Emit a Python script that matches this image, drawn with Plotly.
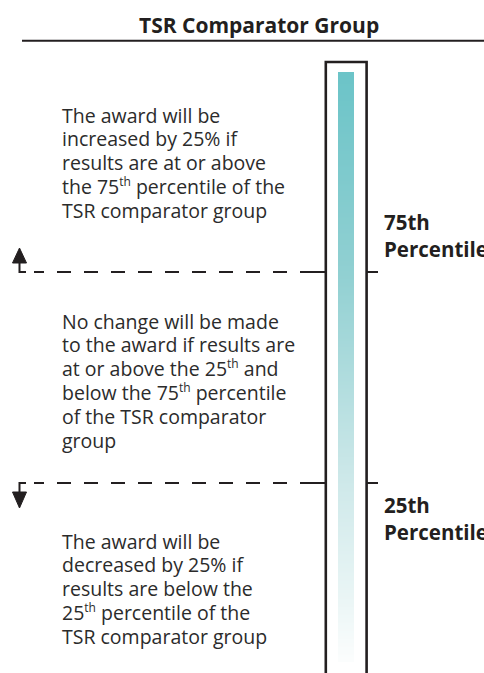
import plotly.graph_objects as go

# ---- data ----
thresholds = [75, 25]
threshold_labels = [["75th", "Percentile"], ["25th", "Percentile"]]
title_text = "TSR Comparator Group"
SUP = '<sup><span style="font-size:12px">th</span></sup>'
block_lines = [
    ["The award will be", "increased by 25% if", "results are at or above",
     f"the 75{SUP} percentile of the", "TSR comparator group"],
    ["No change will be made", "to the award if results are", f"at or above the 25{SUP} and",
     f"below the 75{SUP} percentile", "of the TSR comparator", "group"],
    ["The award will be", "decreased by 25% if", "results are below the",
     f"25{SUP} percentile of the", "TSR comparator group"],
]
gradient_stops = [[0.0, "#fbfdfd"], [0.11, "#e9f5f5"], [0.31, "#cde8e9"], [0.66, "#91d0d2"], [1.0, "#6cc4c8"]]

# ---- layout helpers (page px -> percentile scale) ----
W, H = 484, 673
PX_PER_PCT = 4.22
Y75 = 272.0


def pct(ypx):
    return 75 - (ypx - Y75) / PX_PER_PCT


INK = "#231f20"
TXT = "#2b2b2b"
FONT = "Open Sans"

fig = go.Figure()

# gradient inside tube
N = 80
top_px, bot_px = 72, 662
y_edges = [pct(bot_px + (top_px - bot_px) * i / N) for i in range(N + 1)]
z = [[i / (N - 1)] for i in range(N)]
fig.add_trace(go.Heatmap(x=[338, 354], y=y_edges, z=z, colorscale=gradient_stops,
                         zmin=0, zmax=1, showscale=False, zsmooth="best", hoverinfo="skip"))

shapes = []
# title rule
shapes.append(dict(type="line", x0=22, x1=W + 5, y0=pct(40.7), y1=pct(40.7), line=dict(color=INK, width=2)))
# tube outline
shapes.append(dict(type="path",
                   path=f"M 325.8 {pct(H + 5)} L 325.8 {pct(62)} L 366.6 {pct(62)} L 366.6 {pct(H + 5)}",
                   line=dict(color=INK, width=2.6)))

for t in thresholds:
    shapes.append(dict(type="line", x0=314, x1=34, y0=t, y1=t, line=dict(color=INK, width=2, dash="14px,13px")))
    shapes.append(dict(type="line", x0=314, x1=326, y0=t, y1=t, line=dict(color=INK, width=2)))
    shapes.append(dict(type="line", x0=366, x1=378, y0=t, y1=t, line=dict(color=INK, width=2)))

# arrows
ypx75 = Y75
ypx25 = Y75 + (75 - 25) * PX_PER_PCT
shapes.append(dict(type="path", path=f"M 26 {pct(ypx75)} L 19.5 {pct(ypx75)} L 19.5 {pct(ypx75 - 10)}",
                   line=dict(color=INK, width=2)))
shapes.append(dict(type="path",
                   path=f"M 12.5 {pct(ypx75 - 9)} L 26.5 {pct(ypx75 - 9)} L 19.5 {pct(ypx75 - 24)} Z",
                   line=dict(color=INK, width=1), fillcolor=INK))
shapes.append(dict(type="path", path=f"M 26 {pct(ypx25)} L 19.5 {pct(ypx25)} L 19.5 {pct(ypx25 + 10)}",
                   line=dict(color=INK, width=2)))
shapes.append(dict(type="path",
                   path=f"M 12.5 {pct(ypx25 + 9)} L 26.5 {pct(ypx25 + 9)} L 19.5 {pct(ypx25 + 25)} Z",
                   line=dict(color=INK, width=1), fillcolor=INK))

annotations = []
annotations.append(dict(x=258.5, y=pct(25), text=f"<b>{title_text}</b>", showarrow=False,
                        xanchor="center", yanchor="middle", font=dict(family=FONT, size=21, color=INK)))
block_starts = [115, 321, 541]
LINE_GAP = 23.9
for lines, y0 in zip(block_lines, block_starts):
    for i, txt in enumerate(lines):
        annotations.append(dict(x=60, y=pct(y0 + i * LINE_GAP), text=txt, showarrow=False, align="left",
                                xanchor="left", yanchor="middle",
                                font=dict(family=FONT, size=19.5, color=TXT)))
label_starts = [222, 505]
for lab, y0 in zip(threshold_labels, label_starts):
    for i, txt in enumerate(lab):
        annotations.append(dict(x=382, y=pct(y0 + i * 26.5), text=f"<b>{txt}</b>", showarrow=False,
                                align="left", xanchor="left", yanchor="middle",
                                font=dict(family=FONT, size=20.5, color=INK)))

fig.update_layout(
    width=W, height=H, margin=dict(l=0, r=0, t=0, b=0),
    paper_bgcolor="white", plot_bgcolor="white",
    xaxis=dict(range=[0, W], visible=False, fixedrange=True),
    yaxis=dict(range=[pct(H), pct(0)], visible=False, fixedrange=True),
    shapes=shapes, annotations=annotations, showlegend=False,
)

fig.write_html("out.html", config={"displayModeBar": False},
               post_script="document.body.style.margin='0px';")
